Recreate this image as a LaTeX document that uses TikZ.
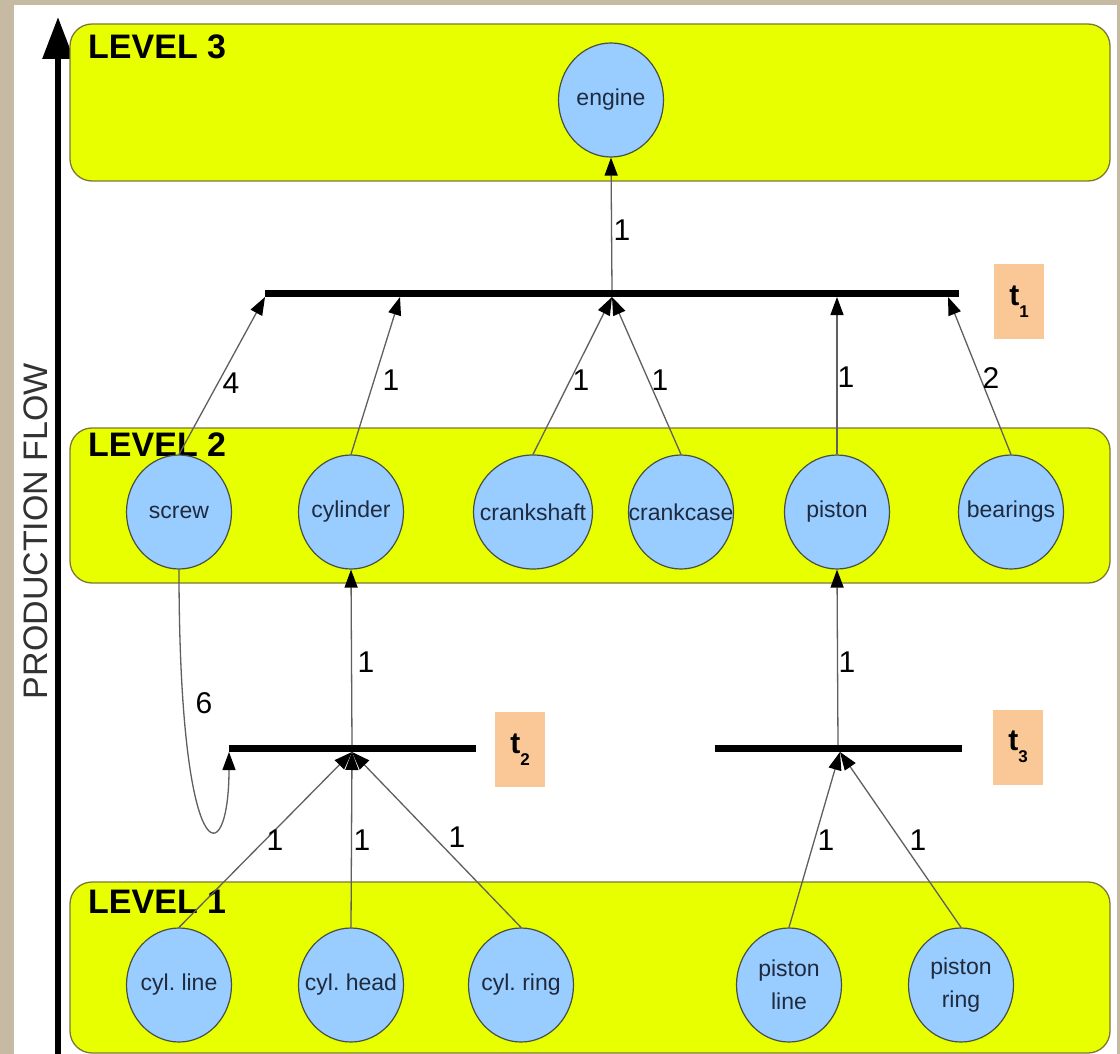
\documentclass[tikz,border=0pt]{standalone}
\usepackage{fontspec}
\setmainfont{Liberation Sans}
\usetikzlibrary{arrows.meta,shapes.geometric}

\definecolor{paper}{RGB}{198,187,162}
\definecolor{lvlfill}{RGB}{232,255,0}
\definecolor{lvldraw}{RGB}{125,120,55}
\definecolor{partfill}{RGB}{153,204,255}
\definecolor{partdraw}{RGB}{70,80,70}
\definecolor{parttext}{RGB}{30,42,62}
\definecolor{tagfill}{RGB}{250,200,150}
\definecolor{edgegray}{RGB}{95,95,95}

\begin{document}
\frenchspacing
\begin{tikzpicture}[x=1pt,y=-1pt,
  level/.style={draw=lvldraw, line width=1.3pt, fill=lvlfill, rounded corners=22pt,
    minimum width=1040pt, inner sep=0pt},
  lvllabel/.style={font=\bfseries\fontsize{34}{34}\selectfont, anchor=base west, inner sep=0pt},
  part/.style={ellipse, draw=partdraw, line width=1.2pt, fill=partfill,
    minimum width=105pt, minimum height=114pt, inner sep=0pt, text=parttext,
    font=\fontsize{23}{33}\selectfont},
  bar/.style={fill=black, minimum height=7pt, inner sep=0pt},
  tag/.style={fill=tagfill, minimum width=50pt, minimum height=75pt, inner sep=0pt,
    font=\bfseries\fontsize{30}{30}\selectfont},
  flow/.style={draw=edgegray, line width=1.3pt,
    -{Triangle[length=18pt,width=13pt,color=black]}},
  wt/.style={font=\fontsize{30}{30}\selectfont, inner sep=0pt}
]
% part names are centred in a zero-width box so the ellipse keeps its size
\newcommand{\pname}[1]{\makebox[0pt]{#1}}
\newcommand{\pnametwo}[2]{\makebox[0pt]{\shortstack{#1\\[9pt]#2}}}
\newcommand{\tsub}[1]{t\raisebox{-12pt}{\fontsize{17}{17}\selectfont #1}}

% backdrop and sheet
\fill[paper] (0,0) rectangle (1120,1054);
\fill[white] (14,5) rectangle (1117,1054);
\useasboundingbox (0,0) rectangle (1120,1054);

% production flow axis
\coordinate (flowbot) at (58,1054);
\coordinate (flowtop) at (58,17);
\draw[line width=6pt, -{Triangle[length=42pt,width=30pt]}] (flowbot) -- (flowtop);
\node[rotate=90, font=\fontsize{34}{34}\selectfont, text={rgb,255:red,50;green,50;blue,50}]
  (axislabel) at (36,531) {PRODUCTION FLOW};

% levels
\node[level, minimum height=157pt] (lvl3) at (590,102.5) {};
\node[level, minimum height=155pt] (lvl2) at (590,505.5) {};
\node[level, minimum height=171pt] (lvl1) at (590,967.5) {};
\node[lvllabel] (lab3) at (88,59) {LEVEL 3};
\node[lvllabel] (lab2) at (88,456) {LEVEL 2};
\node[lvllabel] (lab1) at (88,913) {LEVEL 1};

% parts
\node[part] (engine) at (611,100) {\pname{engine}};
\node[part] (screw) at (179,512) {\pname{screw}};
\node[part] (cylinder) at (351,512) {\pname{cylinder}};
\node[part, minimum width=119pt] (crankshaft) at (533,512) {\pname{crankshaft}};
\node[part] (crankcase) at (681,512) {\pname{crankcase}};
\node[part] (piston) at (837,512) {\pname{piston}};
\node[part] (bearings) at (1011,512) {\pname{bearings}};
\node[part] (cylline) at (179,985) {\pname{cyl. line}};
\node[part] (cylhead) at (351,985) {\pname{cyl. head}};
\node[part] (cylring) at (521,985) {\pname{cyl. ring}};
\node[part] (pistonline) at (789,985) {\pnametwo{piston}{line}};
\node[part] (pistonring) at (961,985) {\pnametwo{piston}{ring}};

% transitions
\node[bar, minimum width=694pt] (t1) at (612,293) {};
\node[bar, minimum width=247pt] (t2) at (352.5,748) {};
\node[bar, minimum width=247pt] (t3) at (838.5,748) {};
\node[tag] (tag1) at (1019,301.5) {\tsub{1}};
\node[tag] (tag2) at (520,749.5) {\tsub{2}};
\node[tag] (tag3) at (1018,747) {\tsub{3}};

% ports on the transition bars
\coordinate (p1a) at (265,297);
\coordinate (p1b) at (400,297);
\coordinate (p1c) at (612,297);
\coordinate (p1d) at (837,297);
\coordinate (p1e) at (948,297);
\coordinate (p1o) at (612,290);
\coordinate (p2a) at (229,752);
\coordinate (p2c) at (352,752);
\coordinate (p2o) at (352,745);
\coordinate (p3c) at (840,752);
\coordinate (p3o) at (838,745);

% level 2 -> t1 -> engine
\draw[flow] (screw.north) -- (p1a);
\draw[flow] (cylinder.north) -- (p1b);
\draw[flow] (crankshaft.north) -- (p1c);
\draw[flow] (crankcase.north) -- (p1c);
\draw[flow] (piston.north) -- (p1d);
\draw[flow] (bearings.north) -- (p1e);
\draw[flow] (p1o) -- (engine.south);

% level 1 -> t2 / t3 -> level 2
\draw[flow] (cylline.north) -- (p2c);
\draw[flow] (cylhead.north) -- (p2c);
\draw[flow] (cylring.north) -- (p2c);
\draw[flow] (screw.south) .. controls (179,875) and (229,875) .. (p2a);
\draw[flow] (p2o) -- (cylinder.south);
\draw[flow] (pistonline.north) -- (p3c);
\draw[flow] (pistonring.north) -- (p3c);
\draw[flow] (p3o) -- (piston.south);

% arc weights
\node[wt] (w1) at (231,383) {4};
\node[wt] (w2) at (391,380) {1};
\node[wt] (w3) at (581,380) {1};
\node[wt] (w4) at (660,380) {1};
\node[wt] (w5) at (846,377) {1};
\node[wt] (w6) at (991,378) {2};
\node[wt] (w7) at (622,230) {1};
\node[wt] (w8) at (366,662) {1};
\node[wt] (w9) at (847,662) {1};
\node[wt] (w10) at (204,703) {6};
\node[wt] (w11) at (275,840) {1};
\node[wt] (w12) at (362,840) {1};
\node[wt] (w13) at (457,837) {1};
\node[wt] (w14) at (826,840) {1};
\node[wt] (w15) at (918,840) {1};
\end{tikzpicture}
\end{document}
